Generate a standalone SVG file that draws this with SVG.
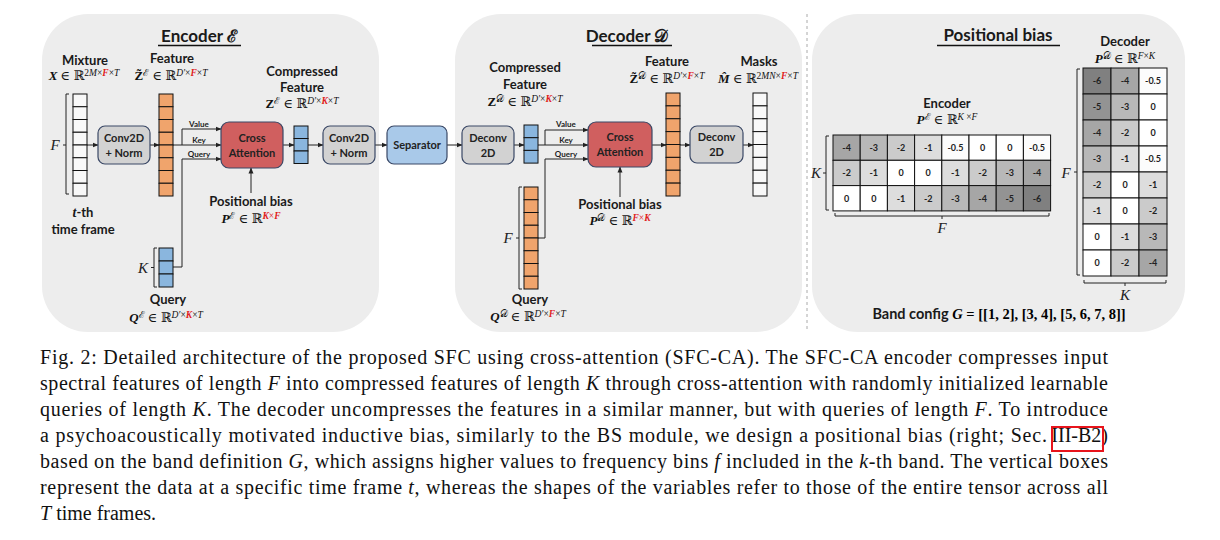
<svg xmlns="http://www.w3.org/2000/svg" width="1220" height="540" viewBox="0 0 1220 540">
<defs>
<marker id="ah" markerWidth="6" markerHeight="6" refX="5.5" refY="3" orient="auto" markerUnits="userSpaceOnUse"><path d="M0,0.5 L6,3 L0,5.5z" fill="#222"/></marker>
<style>
.panel{fill:#ededed;stroke:none}
.lbl{font-family:"Lato","Open Sans",sans-serif;font-weight:bold;fill:#1a1a1a}
.t13{font-size:13px}
.t17{font-size:17px}
.box{stroke:#3a4866;stroke-width:1.2}
.bt{font-family:"Lato","Open Sans",sans-serif;font-weight:bold;font-size:11px;fill:#222;text-anchor:middle}
.vk{font-family:"Lato","Open Sans",sans-serif;font-weight:bold;font-size:8px;fill:#222;text-anchor:middle}
.m{font-family:"Liberation Serif","DejaVu Serif",serif;font-size:13px;fill:#111;text-anchor:middle}
.bi{font-weight:bold;font-style:italic}
.b{font-weight:bold}
.i{font-style:italic}
.r{fill:#e0201c}
.cell{stroke:#111;stroke-width:1}
.w{fill:#f8f8f8}
.o{fill:#f0a46c}
.bl{fill:#8ab6de}
.conn{fill:none;stroke:#222;stroke-width:1;marker-end:url(#ah)}
.br{fill:none;stroke:#222;stroke-width:1}
.bk{font-family:"Liberation Serif","DejaVu Serif",serif;font-style:italic;font-size:15px;fill:#222;text-anchor:middle}
.mx{stroke:#111;stroke-width:1}
.nt{font-family:"Lato","Open Sans",sans-serif;font-weight:bold;font-size:9px;fill:#222;text-anchor:middle}
.cap{font-family:"Liberation Serif","Times New Roman",serif;font-size:20px;fill:#111}
</style>
</defs>
<rect width="1220" height="540" fill="#fff"/>

<!-- panels -->
<g id="panel-encoder"><rect class="panel" x="42" y="14" width="337" height="318" rx="46" ry="46"/>
<text class="lbl t17" x="199" y="42" text-anchor="middle">Encoder ℰ</text><line x1="158" y1="45.5" x2="241" y2="45.5" stroke="#111" stroke-width="1.3"/></g>
<g id="panel-decoder"><rect class="panel" x="455" y="14" width="347" height="318" rx="46" ry="46"/>
<text class="lbl t17" x="627" y="42" text-anchor="middle">Decoder 𝒟</text><line x1="592" y1="45.5" x2="672" y2="45.5" stroke="#111" stroke-width="1.3"/></g>
<line x1="807" y1="14" x2="807" y2="332" stroke="#aaa" stroke-width="1" stroke-dasharray="3,3"/>
<g id="panel-posbias"><rect class="panel" x="812" y="14" width="373" height="318" rx="46" ry="46"/>
<text class="lbl t17" x="998" y="41" text-anchor="middle">Positional bias</text><line x1="937" y1="45.5" x2="1060" y2="45.5" stroke="#111" stroke-width="1.3"/></g>

<!-- connectors -->
<g id="connectors">
<path class="conn" d="M87,145 H98"/>
<path class="conn" d="M150,145 H159"/>
<path class="conn" d="M173,145 H221"/>
<path class="conn" d="M182,145 V129 H221"/>
<path class="conn" d="M173,267 H182 V159 H221"/>
<path class="conn" d="M251,193 V168"/>
<path class="conn" d="M283,145 H294"/>
<path class="conn" d="M308,145 H323"/>
<path class="conn" d="M375,145 H387"/>
<path class="conn" d="M447,145 H462"/>
<path class="conn" d="M514,145 H524"/>
<path class="conn" d="M538,145 H588"/>
<path class="conn" d="M545,145 V130 H588"/>
<path class="conn" d="M538,238 H545 V159 H588"/>
<path class="conn" d="M620,197 V167"/>
<path class="conn" d="M652,145 H666"/>
<path class="conn" d="M680,145 H690"/>
<path class="conn" d="M743,145 H753"/>
<text class="vk" x="199" y="127">Value</text>
<text class="vk" x="199" y="143">Key</text>
<text class="vk" x="199" y="157">Query</text>
<text class="vk" x="566" y="127">Value</text>
<text class="vk" x="566" y="143">Key</text>
<text class="vk" x="566" y="157">Query</text>
</g>

<!-- Encoder -->
<g id="mixture">
<text class="lbl t13" x="85" y="65" text-anchor="middle">Mixture</text>
<text class="m" x="84" y="80"><tspan class="bi">X</tspan> ∈ ℝ<tspan dy="-4" font-size="9.5"><tspan>2</tspan><tspan class="i">M</tspan>×<tspan class="bi r">F</tspan>×<tspan class="i">T</tspan></tspan></text>
<g class="w cell">
<rect x="73" y="94" width="14" height="12.75"/><rect x="73" y="106.75" width="14" height="12.75"/><rect x="73" y="119.5" width="14" height="12.75"/><rect x="73" y="132.25" width="14" height="12.75"/><rect x="73" y="145" width="14" height="12.75"/><rect x="73" y="157.75" width="14" height="12.75"/><rect x="73" y="170.5" width="14" height="12.75"/><rect x="73" y="183.25" width="14" height="12.75"/>
</g>
<path class="br" d="M69,94 H66 V194 H69 M66,145 H63"/>
<text class="bk" x="55" y="150">F</text>
<text class="lbl t13" x="83" y="217" text-anchor="middle"><tspan font-family="Liberation Serif,serif" font-style="italic" font-size="14">t</tspan>-th</text>
<text class="lbl t13" x="83" y="234" text-anchor="middle">time frame</text>
</g>

<g id="conv2d-enc">
<rect class="box" x="98" y="126" width="52" height="38" rx="7" fill="#d2d2d2"/>
<text class="bt" x="124" y="142">Conv2D</text><text class="bt" x="124" y="157">+ Norm</text>
</g>

<g id="feature-enc">
<text class="lbl t13" x="172" y="63" text-anchor="middle">Feature</text>
<text class="m" x="171" y="80"><tspan class="b">Z̃</tspan><tspan dy="-4" font-size="9.5">ℰ</tspan><tspan dy="4"> ∈ ℝ</tspan><tspan dy="-4" font-size="9.5"><tspan class="i">D′</tspan>×<tspan class="bi r">F</tspan>×<tspan class="i">T</tspan></tspan></text>
<g class="o cell">
<rect x="159" y="94" width="14" height="12.75"/><rect x="159" y="106.75" width="14" height="12.75"/><rect x="159" y="119.5" width="14" height="12.75"/><rect x="159" y="132.25" width="14" height="12.75"/><rect x="159" y="145" width="14" height="12.75"/><rect x="159" y="157.75" width="14" height="12.75"/><rect x="159" y="170.5" width="14" height="12.75"/><rect x="159" y="183.25" width="14" height="12.75"/>
</g>
</g>

<g id="query-enc">
<g class="bl cell"><rect x="159" y="248" width="14" height="13"/><rect x="159" y="261" width="14" height="13"/><rect x="159" y="274" width="14" height="13"/></g>
<path class="br" d="M157,248 H154 V287 H157 M154,267.5 H151"/>
<text class="bk" x="143" y="273">K</text>
<text class="lbl t13" x="168" y="304" text-anchor="middle">Query</text>
<text class="m" x="166" y="322"><tspan class="bi">Q</tspan><tspan dy="-4" font-size="9.5">ℰ</tspan><tspan dy="4"> ∈ ℝ</tspan><tspan dy="-4" font-size="9.5"><tspan class="i">D′</tspan>×<tspan class="bi r">K</tspan>×<tspan class="i">T</tspan></tspan></text>
</g>

<g id="cross-attention-enc">
<rect class="box" x="221" y="122" width="62" height="46" rx="8" fill="#d05f5f"/>
<text class="bt" x="252" y="142">Cross</text><text class="bt" x="252" y="157">Attention</text>
</g>

<g id="posbias-enc-label">
<text class="lbl t13" x="251" y="206" text-anchor="middle">Positional bias</text>
<text class="m" x="251" y="223"><tspan class="bi">P</tspan><tspan dy="-4" font-size="9.5">ℰ</tspan><tspan dy="4"> ∈ ℝ</tspan><tspan dy="-4" font-size="9.5"><tspan class="bi r">K</tspan><tspan class="r">×</tspan><tspan class="bi r">F</tspan></tspan></text>
</g>

<g id="compressed-enc">
<text class="lbl t13" x="302" y="76" text-anchor="middle">Compressed</text>
<text class="lbl t13" x="302" y="92" text-anchor="middle">Feature</text>
<text class="m" x="302" y="108"><tspan class="b">Z</tspan><tspan dy="-4" font-size="9.5">ℰ</tspan><tspan dy="4"> ∈ ℝ</tspan><tspan dy="-4" font-size="9.5"><tspan class="i">D′</tspan>×<tspan class="bi r">K</tspan>×<tspan class="i">T</tspan></tspan></text>
<g class="bl cell"><rect x="294" y="126" width="14" height="12.5"/><rect x="294" y="138.5" width="14" height="12.5"/><rect x="294" y="151" width="14" height="12.5"/></g>
</g>

<g id="conv2d-enc2">
<rect class="box" x="323" y="126" width="52" height="38" rx="7" fill="#d2d2d2"/>
<text class="bt" x="349" y="142">Conv2D</text><text class="bt" x="349" y="157">+ Norm</text>
</g>

<g id="separator">
<rect class="box" x="387" y="126" width="60" height="38" rx="7" fill="#a9c9e9"/>
<text class="bt" x="417" y="149">Separator</text>
</g>

<!-- Decoder -->
<g id="deconv-dec1">
<rect class="box" x="462" y="126" width="52" height="38" rx="7" fill="#d2d2d2"/>
<text class="bt" x="488" y="142">Deconv</text><text class="bt" x="488" y="157">2D</text>
</g>

<g id="compressed-dec">
<text class="lbl t13" x="525" y="72" text-anchor="middle">Compressed</text>
<text class="lbl t13" x="525" y="89" text-anchor="middle">Feature</text>
<text class="m" x="525" y="106"><tspan class="b">Z</tspan><tspan dy="-4" font-size="9.5">𝒟</tspan><tspan dy="4"> ∈ ℝ</tspan><tspan dy="-4" font-size="9.5"><tspan class="i">D′</tspan>×<tspan class="bi r">K</tspan>×<tspan class="i">T</tspan></tspan></text>
<g class="bl cell"><rect x="524" y="125" width="14" height="12.7"/><rect x="524" y="137.7" width="14" height="12.7"/><rect x="524" y="150.4" width="14" height="12.7"/></g>
</g>

<g id="query-dec">
<g class="o cell">
<rect x="524" y="187" width="14" height="12.75"/><rect x="524" y="199.75" width="14" height="12.75"/><rect x="524" y="212.5" width="14" height="12.75"/><rect x="524" y="225.25" width="14" height="12.75"/><rect x="524" y="238" width="14" height="12.75"/><rect x="524" y="250.75" width="14" height="12.75"/><rect x="524" y="263.5" width="14" height="12.75"/><rect x="524" y="276.25" width="14" height="12.75"/>
</g>
<path class="br" d="M522,187 H519 V289 H522 M519,238 H516"/>
<text class="bk" x="508" y="243">F</text>
<text class="lbl t13" x="530" y="304" text-anchor="middle">Query</text>
<text class="m" x="528" y="321"><tspan class="bi">Q</tspan><tspan dy="-4" font-size="9.5">𝒟</tspan><tspan dy="4"> ∈ ℝ</tspan><tspan dy="-4" font-size="9.5"><tspan class="i">D′</tspan>×<tspan class="bi r">F</tspan>×<tspan class="i">T</tspan></tspan></text>
</g>

<g id="cross-attention-dec">
<rect class="box" x="588" y="122" width="64" height="45" rx="8" fill="#d05f5f"/>
<text class="bt" x="620" y="141">Cross</text><text class="bt" x="620" y="156">Attention</text>
</g>

<g id="posbias-dec-label">
<text class="lbl t13" x="620" y="209" text-anchor="middle">Positional bias</text>
<text class="m" x="620" y="225"><tspan class="bi">P</tspan><tspan dy="-4" font-size="9.5">𝒟</tspan><tspan dy="4"> ∈ ℝ</tspan><tspan dy="-4" font-size="9.5"><tspan class="bi r">F</tspan><tspan class="r">×</tspan><tspan class="bi r">K</tspan></tspan></text>
</g>

<g id="feature-dec">
<text class="lbl t13" x="667" y="66" text-anchor="middle">Feature</text>
<text class="m" x="667" y="83"><tspan class="b">Z̃</tspan><tspan dy="-4" font-size="9.5">𝒟</tspan><tspan dy="4"> ∈ ℝ</tspan><tspan dy="-4" font-size="9.5"><tspan class="i">D′</tspan>×<tspan class="bi r">F</tspan>×<tspan class="i">T</tspan></tspan></text>
<g class="o cell">
<rect x="666" y="93" width="14" height="12.875"/><rect x="666" y="105.875" width="14" height="12.875"/><rect x="666" y="118.75" width="14" height="12.875"/><rect x="666" y="131.625" width="14" height="12.875"/><rect x="666" y="144.5" width="14" height="12.875"/><rect x="666" y="157.375" width="14" height="12.875"/><rect x="666" y="170.25" width="14" height="12.875"/><rect x="666" y="183.125" width="14" height="12.875"/>
</g>
</g>

<g id="deconv-dec2">
<rect class="box" x="690" y="126" width="53" height="37" rx="7" fill="#d2d2d2"/>
<text class="bt" x="716.5" y="141">Deconv</text><text class="bt" x="716.5" y="156">2D</text>
</g>

<g id="masks">
<text class="lbl t13" x="759" y="66" text-anchor="middle">Masks</text>
<text class="m" x="758" y="83"><tspan class="bi">M̂</tspan> ∈ ℝ<tspan dy="-4" font-size="9.5"><tspan>2</tspan><tspan class="i">MN</tspan>×<tspan class="bi r">F</tspan>×<tspan class="i">T</tspan></tspan></text>
<g class="w cell">
<rect x="753" y="93" width="14" height="12.875"/><rect x="753" y="105.875" width="14" height="12.875"/><rect x="753" y="118.75" width="14" height="12.875"/><rect x="753" y="131.625" width="14" height="12.875"/><rect x="753" y="144.5" width="14" height="12.875"/><rect x="753" y="157.375" width="14" height="12.875"/><rect x="753" y="170.25" width="14" height="12.875"/><rect x="753" y="183.125" width="14" height="12.875"/>
</g>
</g>

<!-- Positional bias matrices -->
<g id="pb-encoder-matrix">
<text class="lbl t13" x="947" y="108" text-anchor="middle">Encoder</text>
<text class="m" x="947" y="124"><tspan class="bi">P</tspan><tspan dy="-4" font-size="9.5">ℰ</tspan><tspan dy="4"> ∈ ℝ</tspan><tspan dy="-4" font-size="9.5"><tspan class="i">K</tspan> ×<tspan class="i">F</tspan></tspan></text>
<g class="mx">
<rect x="833" y="135" width="27.2" height="25.3" fill="#a6a6a6"/><rect x="860.2" y="135" width="27.2" height="25.3" fill="#b8b8b8"/><rect x="887.4" y="135" width="27.2" height="25.3" fill="#cbcbcb"/><rect x="914.6" y="135" width="27.2" height="25.3" fill="#dddddd"/><rect x="941.8" y="135" width="27.2" height="25.3" fill="#fcfcfc"/><rect x="969" y="135" width="27.2" height="25.3" fill="#ffffff"/><rect x="996.2" y="135" width="27.2" height="25.3" fill="#ffffff"/><rect x="1023.4" y="135" width="27.2" height="25.3" fill="#fcfcfc"/>
<rect x="833" y="160.3" width="27.2" height="25.3" fill="#cbcbcb"/><rect x="860.2" y="160.3" width="27.2" height="25.3" fill="#dddddd"/><rect x="887.4" y="160.3" width="27.2" height="25.3" fill="#ffffff"/><rect x="914.6" y="160.3" width="27.2" height="25.3" fill="#ffffff"/><rect x="941.8" y="160.3" width="27.2" height="25.3" fill="#dddddd"/><rect x="969" y="160.3" width="27.2" height="25.3" fill="#cbcbcb"/><rect x="996.2" y="160.3" width="27.2" height="25.3" fill="#b8b8b8"/><rect x="1023.4" y="160.3" width="27.2" height="25.3" fill="#a6a6a6"/>
<rect x="833" y="185.6" width="27.2" height="25.3" fill="#ffffff"/><rect x="860.2" y="185.6" width="27.2" height="25.3" fill="#ffffff"/><rect x="887.4" y="185.6" width="27.2" height="25.3" fill="#dddddd"/><rect x="914.6" y="185.6" width="27.2" height="25.3" fill="#cbcbcb"/><rect x="941.8" y="185.6" width="27.2" height="25.3" fill="#b8b8b8"/><rect x="969" y="185.6" width="27.2" height="25.3" fill="#a6a6a6"/><rect x="996.2" y="185.6" width="27.2" height="25.3" fill="#939393"/><rect x="1023.4" y="185.6" width="27.2" height="25.3" fill="#808080"/>
</g>
<g>
<text class="nt" x="846.6" y="151">-4</text><text class="nt" x="873.8" y="151">-3</text><text class="nt" x="901" y="151">-2</text><text class="nt" x="928.2" y="151">-1</text><text class="nt" x="955.4" y="151">-0.5</text><text class="nt" x="982.6" y="151">0</text><text class="nt" x="1009.8" y="151">0</text><text class="nt" x="1037" y="151">-0.5</text>
<text class="nt" x="846.6" y="176">-2</text><text class="nt" x="873.8" y="176">-1</text><text class="nt" x="901" y="176">0</text><text class="nt" x="928.2" y="176">0</text><text class="nt" x="955.4" y="176">-1</text><text class="nt" x="982.6" y="176">-2</text><text class="nt" x="1009.8" y="176">-3</text><text class="nt" x="1037" y="176">-4</text>
<text class="nt" x="846.6" y="202">0</text><text class="nt" x="873.8" y="202">0</text><text class="nt" x="901" y="202">-1</text><text class="nt" x="928.2" y="202">-2</text><text class="nt" x="955.4" y="202">-3</text><text class="nt" x="982.6" y="202">-4</text><text class="nt" x="1009.8" y="202">-5</text><text class="nt" x="1037" y="202">-6</text>
</g>
<path class="br" d="M829,136 H826 V210 H829 M826,173 H823"/>
<text class="bk" x="816" y="178">K</text>
<path class="br" d="M835,213 V216 H1049 V213 M942,216 V219"/>
<text class="bk" x="942" y="233">F</text>
</g>

<g id="pb-decoder-matrix">
<text class="lbl t13" x="1125" y="46" text-anchor="middle">Decoder</text>
<text class="m" x="1125" y="63"><tspan class="bi">P</tspan><tspan dy="-4" font-size="9.5">𝒟</tspan><tspan dy="4"> ∈ ℝ</tspan><tspan dy="-4" font-size="9.5"><tspan class="i">F</tspan>×<tspan class="i">K</tspan></tspan></text>
<g class="mx">
<rect x="1083" y="68" width="28" height="26" fill="#808080"/><rect x="1111" y="68" width="28" height="26" fill="#a6a6a6"/><rect x="1139" y="68" width="28" height="26" fill="#fcfcfc"/>
<rect x="1083" y="94" width="28" height="26" fill="#939393"/><rect x="1111" y="94" width="28" height="26" fill="#b8b8b8"/><rect x="1139" y="94" width="28" height="26" fill="#ffffff"/>
<rect x="1083" y="120" width="28" height="26" fill="#a6a6a6"/><rect x="1111" y="120" width="28" height="26" fill="#cbcbcb"/><rect x="1139" y="120" width="28" height="26" fill="#ffffff"/>
<rect x="1083" y="146" width="28" height="26" fill="#b8b8b8"/><rect x="1111" y="146" width="28" height="26" fill="#dddddd"/><rect x="1139" y="146" width="28" height="26" fill="#fcfcfc"/>
<rect x="1083" y="172" width="28" height="26" fill="#cbcbcb"/><rect x="1111" y="172" width="28" height="26" fill="#ffffff"/><rect x="1139" y="172" width="28" height="26" fill="#dddddd"/>
<rect x="1083" y="198" width="28" height="26" fill="#dddddd"/><rect x="1111" y="198" width="28" height="26" fill="#ffffff"/><rect x="1139" y="198" width="28" height="26" fill="#cbcbcb"/>
<rect x="1083" y="224" width="28" height="26" fill="#ffffff"/><rect x="1111" y="224" width="28" height="26" fill="#dddddd"/><rect x="1139" y="224" width="28" height="26" fill="#b8b8b8"/>
<rect x="1083" y="250" width="28" height="26" fill="#ffffff"/><rect x="1111" y="250" width="28" height="26" fill="#cbcbcb"/><rect x="1139" y="250" width="28" height="26" fill="#a6a6a6"/>
</g>
<g>
<text class="nt" x="1097" y="84">-6</text><text class="nt" x="1125" y="84">-4</text><text class="nt" x="1153" y="84">-0.5</text>
<text class="nt" x="1097" y="110">-5</text><text class="nt" x="1125" y="110">-3</text><text class="nt" x="1153" y="110">0</text>
<text class="nt" x="1097" y="136">-4</text><text class="nt" x="1125" y="136">-2</text><text class="nt" x="1153" y="136">0</text>
<text class="nt" x="1097" y="162">-3</text><text class="nt" x="1125" y="162">-1</text><text class="nt" x="1153" y="162">-0.5</text>
<text class="nt" x="1097" y="188">-2</text><text class="nt" x="1125" y="188">0</text><text class="nt" x="1153" y="188">-1</text>
<text class="nt" x="1097" y="214">-1</text><text class="nt" x="1125" y="214">0</text><text class="nt" x="1153" y="214">-2</text>
<text class="nt" x="1097" y="240">0</text><text class="nt" x="1125" y="240">-1</text><text class="nt" x="1153" y="240">-3</text>
<text class="nt" x="1097" y="266">0</text><text class="nt" x="1125" y="266">-2</text><text class="nt" x="1153" y="266">-4</text>
</g>
<path class="br" d="M1080,69 H1077 V275 H1080 M1077,172 H1074"/>
<text class="bk" x="1066" y="178">F</text>
<path class="br" d="M1084,280 V283 H1166 V280 M1125,283 V286"/>
<text class="bk" x="1125" y="300">K</text>
</g>

<g id="band-config">
<text x="999" y="319" text-anchor="middle" font-size="14.5"><tspan class="lbl">Band config </tspan><tspan font-family="Liberation Serif,DejaVu Serif,serif" font-weight="bold"><tspan font-style="italic">G</tspan> = [[1, 2], [3, 4], [5, 6, 7, 8]]</tspan></text>
</g>

<!-- caption -->
<g id="caption" class="cap">
<text x="40" y="364" textLength="1068" lengthAdjust="spacing">Fig. 2: Detailed architecture of the proposed SFC using cross-attention (SFC-CA). The SFC-CA encoder compresses input</text>
<text x="40" y="390" textLength="1068" lengthAdjust="spacing">spectral features of length <tspan class="i">F</tspan> into compressed features of length <tspan class="i">K</tspan> through cross-attention with randomly initialized learnable</text>
<text x="40" y="416" textLength="1068" lengthAdjust="spacing">queries of length <tspan class="i">K</tspan>. The decoder uncompresses the features in a similar manner, but with queries of length <tspan class="i">F</tspan>. To introduce</text>
<text x="40" y="442" textLength="1007" lengthAdjust="spacing">a psychoacoustically motivated inductive bias, similarly to the BS module, we design a positional bias (right; Sec.</text>
<text x="1108" y="442" text-anchor="end">III-B2)</text>
<rect x="1052" y="427" width="51" height="24" fill="none" stroke="#e8141c" stroke-width="2"/>
<text x="40" y="468" textLength="1068" lengthAdjust="spacing">based on the band definition <tspan class="i">G</tspan>, which assigns higher values to frequency bins <tspan class="i">f</tspan> included in the <tspan class="i">k</tspan>-th band. The vertical boxes</text>
<text x="40" y="494" textLength="1068" lengthAdjust="spacing">represent the data at a specific time frame <tspan class="i">t</tspan>, whereas the shapes of the variables refer to those of the entire tensor across all</text>
<text x="40" y="520"><tspan class="i">T</tspan> time frames.</text>
</g>
</svg>
